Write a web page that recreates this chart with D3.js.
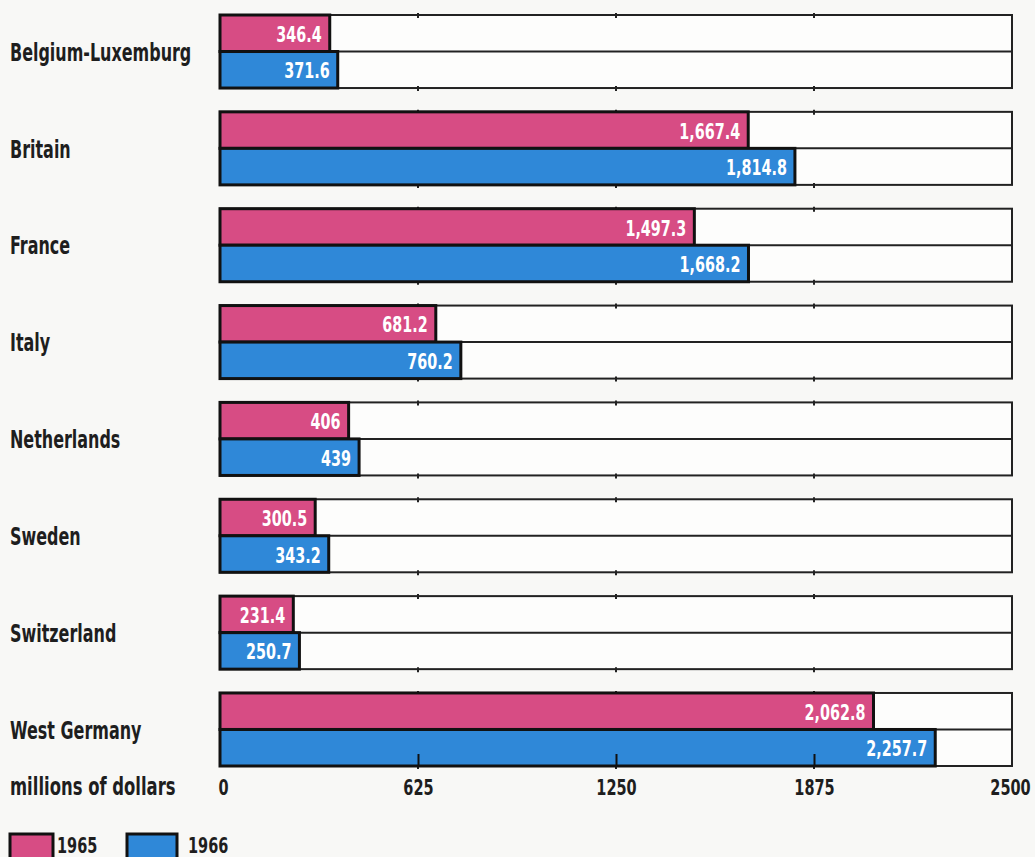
<!DOCTYPE html>
<html>
<head>
<meta charset="utf-8">
<script src="https://cdn.jsdelivr.net/npm/d3@7"></script>
<style>
  body { margin: 0; background: #f8f8f6; }
  text { font-family: "DejaVu Sans", sans-serif; font-weight: bold; }
</style>
</head>
<body>
<div id="graph"></div>
<script>
const width = 1035;
const height = 857;

const countries = ["Belgium-Luxemburg", "Britain", "France", "Italy", "Netherlands", "Sweden", "Switzerland", "West Germany"];
const years = ["1965", "1966"];
const values1965 = [346.4, 1667.4, 1497.3, 681.2, 406, 300.5, 231.4, 2062.8];
const values1966 = [371.6, 1814.8, 1668.2, 760.2, 439, 343.2, 250.7, 2257.7];
const tickValues = [0, 625, 1250, 1875, 2500];
const colors = {"1965": "#d74c84", "1966": "#2f88d8"};

const svg = d3.select("#graph")
  .append("svg")
  .attr("width", width)
  .attr("height", height);

// no narrow bold font installed, so squeeze the glyphs around their anchor
function squeeze(sel, k) {
  sel.each(function() {
    const ax = +this.getAttribute("x") || 0;
    d3.select(this).attr("transform", `translate(${ax},0) scale(${k},1) translate(${-ax},0)`);
  });
}

const x = d3.scaleLinear()
  .domain([0, 2500])
  .range([220, 1012]);

const y = d3.scaleBand()
  .domain(countries)
  .range([15, 766])
  .paddingInner(0.246)
  .paddingOuter(0);

const yy = d3.scaleBand()
  .domain(years)
  .range([0, y.bandwidth()]);

const fmt = v => v >= 1000 ? d3.format(",.1f")(v) : String(v);

const rows = countries.map((c, i) => ({
  country: c,
  bars: [
    {year: "1965", value: values1965[i]},
    {year: "1966", value: values1966[i]}
  ]
}));

const group = svg.selectAll("g.row")
  .data(rows)
  .join("g")
  .attr("class", "row")
  .attr("transform", d => `translate(0,${y(d.country)})`);

// empty frame for each country
group.append("rect")
  .attr("x", x(0))
  .attr("y", 0)
  .attr("width", x(2500) - x(0))
  .attr("height", y.bandwidth())
  .attr("fill", "#fdfdfc")
  .attr("stroke", "#222")
  .attr("stroke-width", 2);

group.append("line")
  .attr("x1", x(0))
  .attr("x2", x(2500))
  .attr("y1", yy("1966"))
  .attr("y2", yy("1966"))
  .attr("stroke", "#222")
  .attr("stroke-width", 2);

// little marks where the grid values fall
const marks = tickValues.slice(1, 4);
group.selectAll("line.mark-top")
  .data(marks)
  .join("line")
  .attr("class", "mark-top")
  .attr("x1", d => x(d))
  .attr("x2", d => x(d))
  .attr("y1", -2)
  .attr("y2", 3)
  .attr("stroke", "#222")
  .attr("stroke-width", 2);

group.selectAll("line.mark")
  .data(marks)
  .join("line")
  .attr("class", "mark")
  .attr("x1", d => x(d))
  .attr("x2", d => x(d))
  .attr("y1", y.bandwidth() - 2)
  .attr("y2", y.bandwidth() + 3)
  .attr("stroke", "#222")
  .attr("stroke-width", 2);

group.selectAll("rect.bar")
  .data(d => d.bars)
  .join("rect")
  .attr("class", "bar")
  .attr("x", x(0))
  .attr("y", d => yy(d.year))
  .attr("width", d => x(d.value) - x(0))
  .attr("height", yy.bandwidth())
  .attr("fill", d => colors[d.year])
  .attr("stroke", "#111")
  .attr("stroke-width", 3);

group.selectAll("text.val")
  .data(d => d.bars)
  .join("text")
  .attr("class", "val")
  .attr("x", d => x(d.value) - 8)
  .attr("y", d => yy(d.year) + yy.bandwidth() / 2 + 1)
  .attr("text-anchor", "end")
  .attr("dominant-baseline", "central")
  .attr("fill", "#fff")
  .attr("font-size", 21)
  .text(d => fmt(d.value))
  .call(squeeze, 0.685);

group.append("text")
  .attr("class", "lab")
  .attr("x", 10)
  .attr("y", y.bandwidth() / 2 + 1)
  .attr("dominant-baseline", "central")
  .attr("fill", "#1e1e1e")
  .attr("font-size", 24)
  .text(d => d.country)
  .call(squeeze, 0.665);

// inner ticks on the bottom frame
const last = y(countries[countries.length - 1]) + y.bandwidth();
svg.append("g")
  .attr("transform", `translate(0,${last})`)
  .call(d3.axisTop(x).tickValues(marks).tickSize(12).tickFormat(""))
  .call(g => g.select(".domain").remove())
  .call(g => g.selectAll("line").attr("stroke", "#111").attr("stroke-width", 2));

// tick labels
const axis = svg.append("g")
  .attr("transform", "translate(0,787)")
  .call(d3.axisBottom(x).tickValues(tickValues).tickFormat(d3.format("d")).tickSize(0).tickPadding(0));
axis.select(".domain").remove();
axis.selectAll("text")
  .attr("dy", null)
  .attr("y", 0)
  .attr("x", (d, i) => i === 0 ? 3 : i === tickValues.length - 1 ? -2 : 0)
  .attr("dominant-baseline", "central")
  .attr("font-family", null)
  .attr("font-size", 22)
  .attr("fill", "#1e1e1e")
  .call(squeeze, 0.66);

svg.append("text")
  .attr("x", 10)
  .attr("y", 787)
  .attr("dominant-baseline", "central")
  .attr("fill", "#1e1e1e")
  .attr("font-size", 24)
  .text("millions of dollars")
  .call(squeeze, 0.685);

// legend
const legend = svg.selectAll("g.legend")
  .data(years)
  .join("g")
  .attr("class", "legend")
  .attr("transform", (d, i) => `translate(${10 + i * 117},834)`);

legend.append("rect")
  .attr("width", (d, i) => 43 + i * 7)
  .attr("height", 30)
  .attr("fill", d => colors[d])
  .attr("stroke", "#111")
  .attr("stroke-width", 3);

legend.append("text")
  .attr("x", (d, i) => 47 + i * 14)
  .attr("y", 11)
  .attr("dominant-baseline", "central")
  .attr("fill", "#1e1e1e")
  .attr("font-size", 22)
  .text(d => d)
  .call(squeeze, 0.66);
</script>
</body>
</html>
